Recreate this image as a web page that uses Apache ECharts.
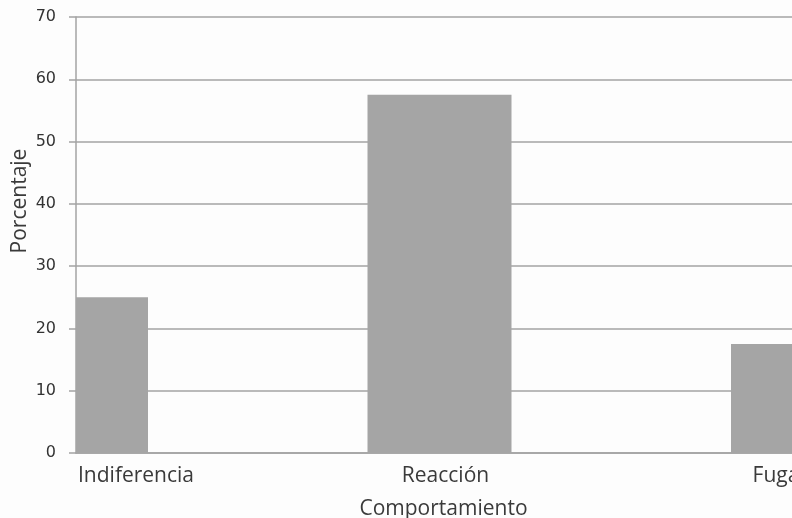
<!DOCTYPE html>
<html>
<head>
<meta charset="utf-8">
<script src="https://cdn.jsdelivr.net/npm/echarts@6/dist/echarts.min.js"></script>
<style>html,body{margin:0;padding:0;background:#fdfdfd;}#c{width:792px;height:518px;}</style>
</head>
<body>
<div id="c"></div>
<script>
const categories = ['Indiferencia', 'Reacción', 'Fuga'];
const values = [25, 57.5, 17.5];
const yTicks = [0, 10, 20, 30, 40, 50, 60, 70];

const FONT = 'Open Sans';
const TXT = '#3a3a3a';
const LINE = '#a3a3a3';
const BAR = '#a5a5a5';

const chart = echarts.init(document.getElementById('c'));
chart.setOption({
  backgroundColor: '#fdfdfd',
  animation: false,
  grid: { left: 76, right: -11, top: 17, bottom: 65, containLabel: false, outerBoundsMode: 'none' },
  xAxis: {
    type: 'category',
    data: categories,
    boundaryGap: false,
    name: 'Comportamiento',
    nameLocation: 'middle',
    nameGap: 46,
    nameMoveOverlap: false,
    nameTextStyle: { fontFamily: FONT, fontSize: 21, color: TXT, padding: [0, 0, 0, 8] },
    axisLine: { show: true, lineStyle: { color: LINE, width: 1.5 } },
    axisTick: { show: false },
    axisLabel: {
      interval: 0,
      margin: 13,
      fontFamily: FONT,
      fontSize: 21,
      color: TXT,
      formatter: function (v, i) { return '{l' + i + '|' + v + '}'; },
      rich: {
        l0: { fontFamily: FONT, fontSize: 21, color: TXT, padding: [0, 0, 0, 120] },
        l1: { fontFamily: FONT, fontSize: 21, color: TXT, padding: [0, 0, 0, 12] },
        l2: { fontFamily: FONT, fontSize: 21, color: TXT, padding: [0, 54, 0, 0] }
      }
    },
    splitLine: { show: false }
  },
  yAxis: {
    type: 'value',
    min: yTicks[0],
    max: yTicks[yTicks.length - 1],
    interval: 10,
    name: 'Porcentaje',
    nameLocation: 'middle',
    nameGap: 45,
    nameMoveOverlap: false,
    nameTextStyle: { fontFamily: FONT, fontSize: 21, color: TXT, padding: [0, 0, 0, 68] },
    axisLine: { show: true, lineStyle: { color: LINE, width: 1.5 } },
    axisTick: { show: true, length: 7, lineStyle: { color: LINE, width: 1.5 } },
    axisLabel: { fontFamily: 'DejaVu Sans', fontSize: 16, color: '#333', margin: 20 },
    splitLine: { show: true, lineStyle: { color: LINE, width: 1.5 } }
  },
  series: [{
    type: 'custom',
    data: values.map(function (v, i) { return [i, v]; }),
    encode: { x: 0, y: 1 },
    renderItem: function (params, api) {
      const top = api.coord([api.value(0), api.value(1)]);
      const base = api.coord([api.value(0), 0]);
      const w = 144;
      const cs = params.coordSys;
      const shape = echarts.graphic.clipRectByRect(
        { x: top[0] - w / 2, y: top[1], width: w, height: base[1] - top[1] },
        { x: cs.x, y: cs.y, width: cs.width, height: cs.height }
      );
      return shape && { type: 'rect', shape: shape, style: { fill: BAR } };
    },
    z: 2
  }]
});
</script>
</body>
</html>
